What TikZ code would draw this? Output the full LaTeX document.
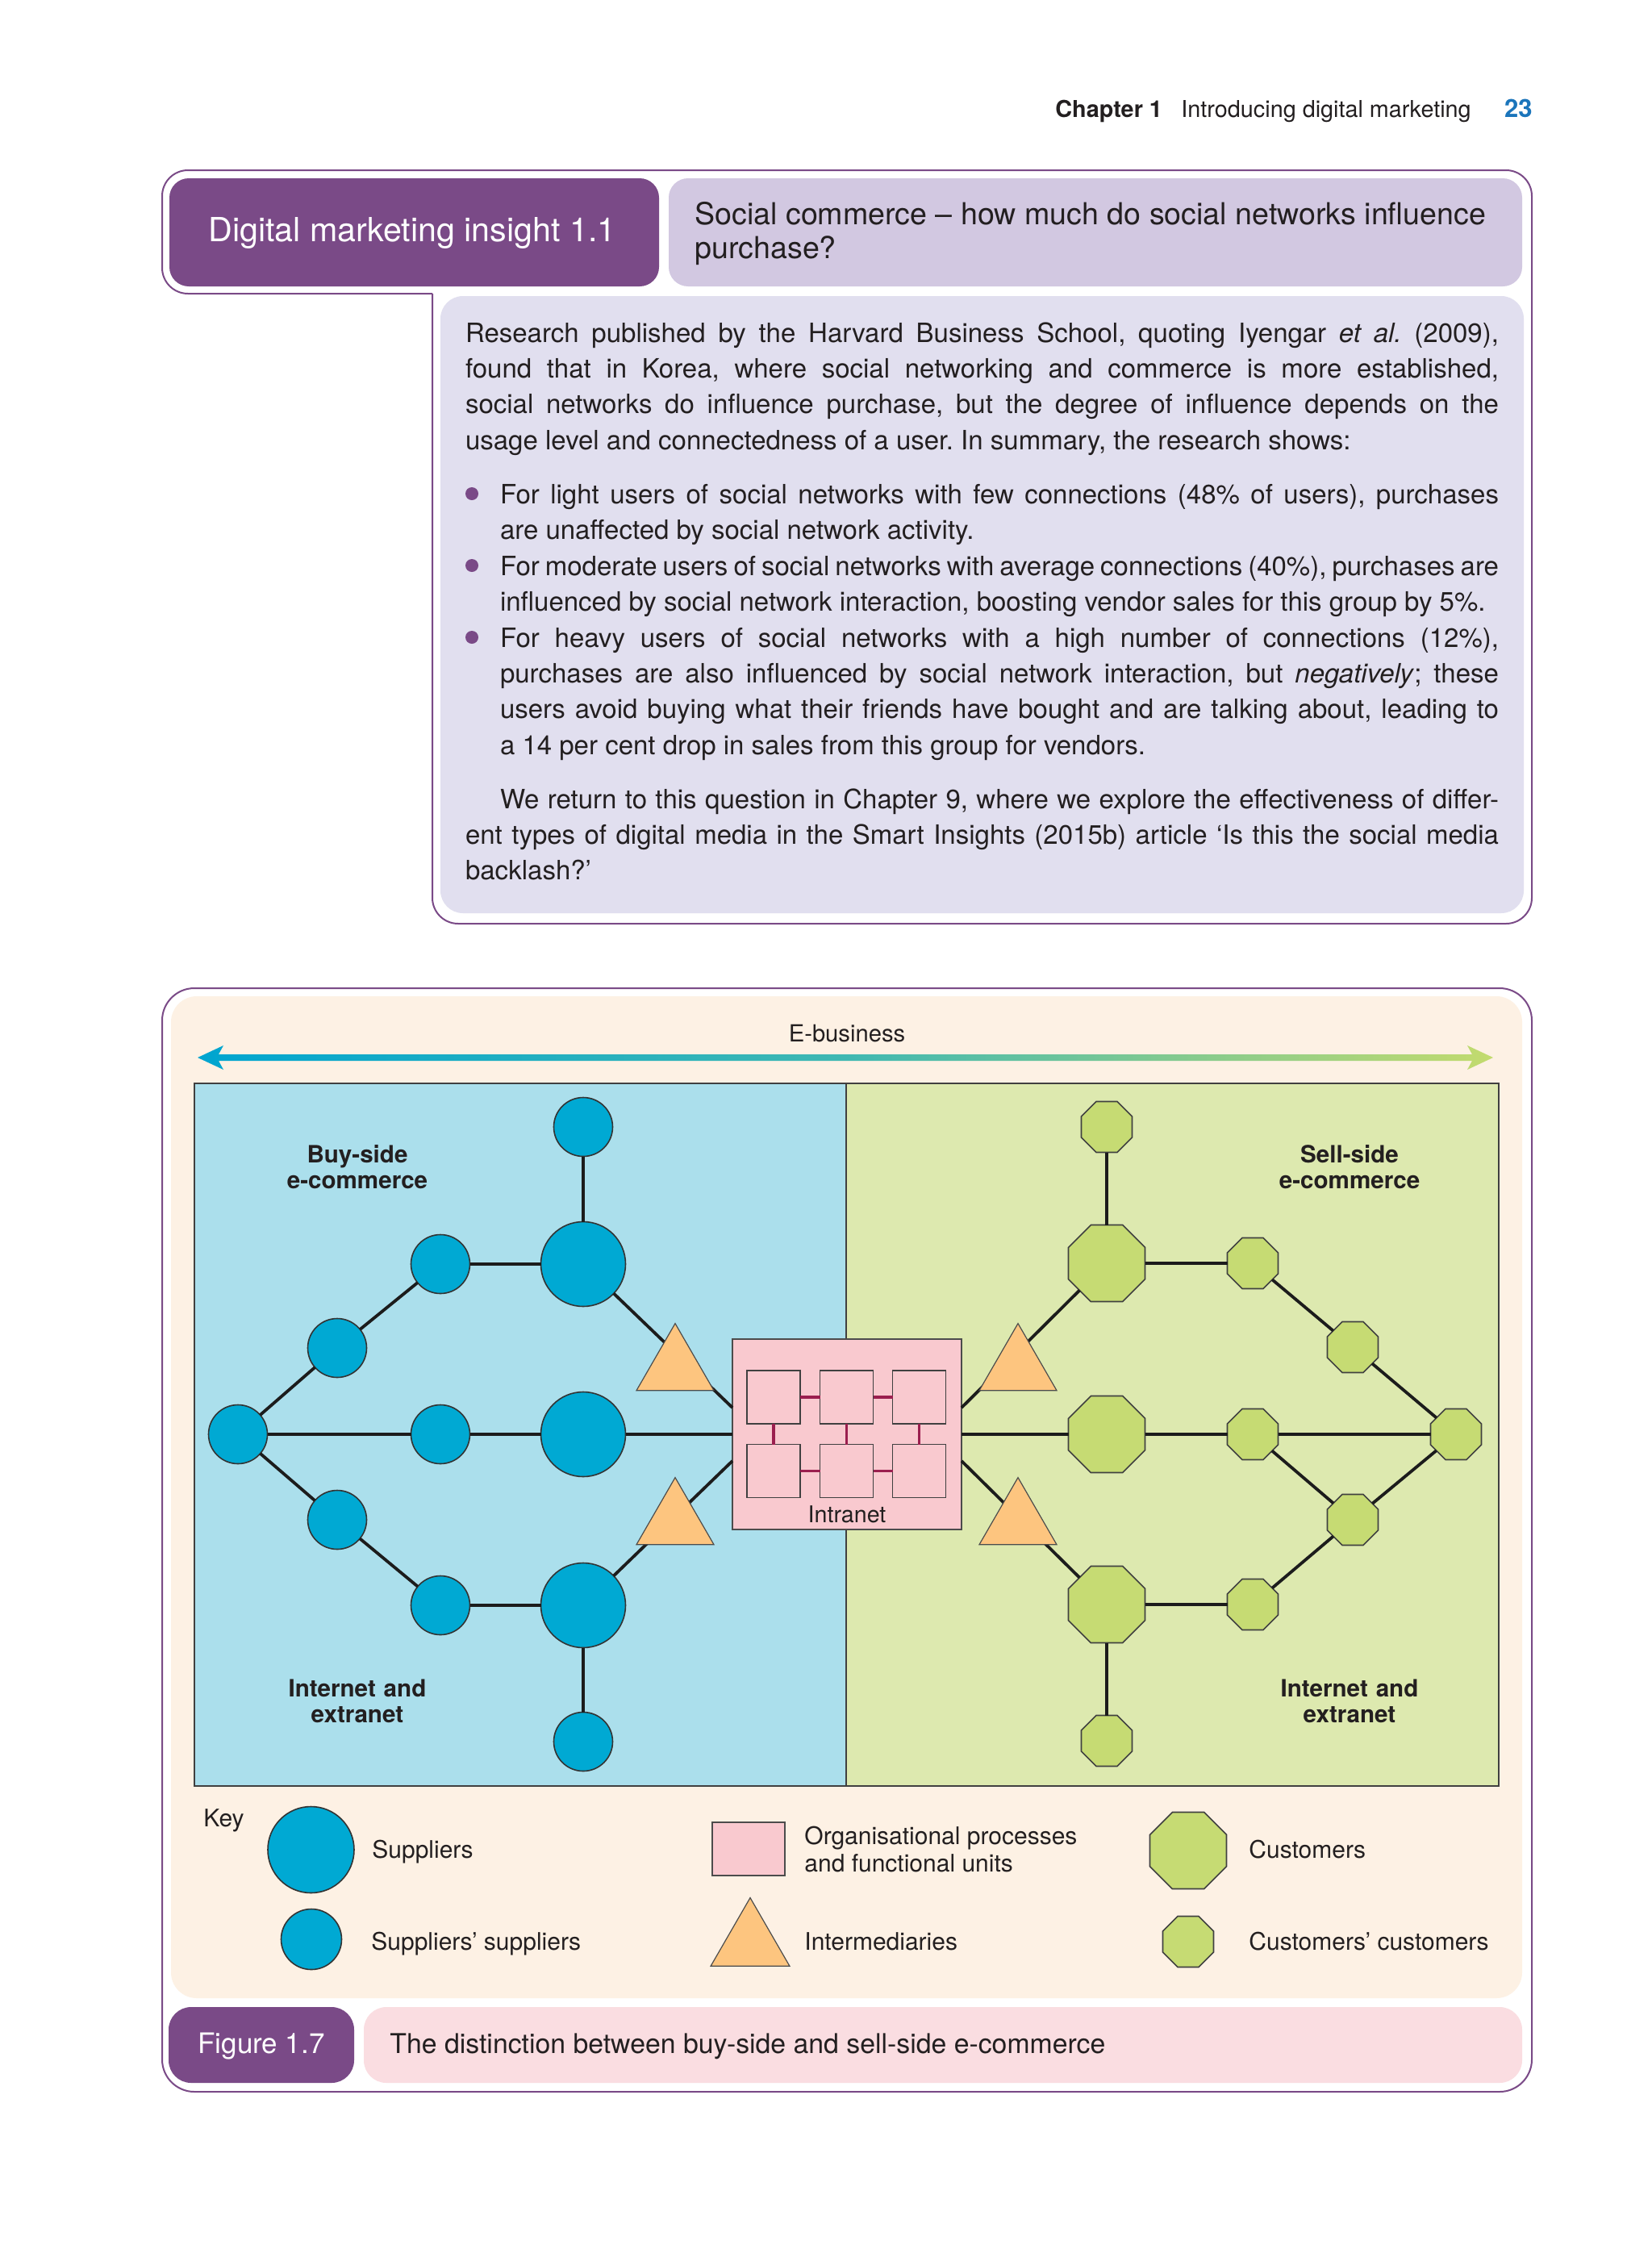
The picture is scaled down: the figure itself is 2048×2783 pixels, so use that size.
\documentclass[tikz,border=0pt]{standalone}
\usepackage{fontspec}
\setmainfont{TeX Gyre Heros}
\usetikzlibrary{shapes.geometric}
\definecolor{purpleD}{HTML}{7A4A87}
\definecolor{lilac}{HTML}{D2C8E1}
\definecolor{lavender}{HTML}{E1DFEF}
\definecolor{beige}{HTML}{FDF1E4}
\definecolor{bluePanel}{HTML}{ABDFEC}
\definecolor{greenPanel}{HTML}{DDE9AF}
\definecolor{circC}{HTML}{00A9D3}
\definecolor{octC}{HTML}{C6DB73}
\definecolor{triC}{HTML}{FDC57F}
\definecolor{pinkBox}{HTML}{F9C9CF}
\definecolor{magentaC}{HTML}{9B1F4F}
\definecolor{capPink}{HTML}{FADDE1}
\definecolor{headBlue}{HTML}{1B75BB}
\definecolor{textc}{HTML}{231F20}
\definecolor{arrowL}{HTML}{00A5D0}
\definecolor{arrowM}{HTML}{3FB8B2}
\definecolor{arrowR}{HTML}{C3DB6E}
\definecolor{lineC}{HTML}{1C1C1C}
\newcommand\jline[1]{\hbox to\hsize{#1}}
\newcommand\lline[1]{\hbox{#1}}
\newcommand\txtblock[2]{\vtop{\hsize=#1\relax #2}}
\frenchspacing
\begin{document}
\begin{tikzpicture}[x=0.5pt,y=-0.5pt,
  bodytxt/.style={inner sep=0pt, outer sep=0pt, font=\fontsize{16.5}{22.2}\selectfont\frenchspacing, text=textc, anchor=base west},
  bigC/.style={circle, fill=circC, draw=black!80, line width=0.8pt, minimum size=52.5pt, inner sep=0pt, outer sep=0pt},
  smallC/.style={bigC, minimum size=36.5pt},
  bigO/.style={regular polygon, regular polygon sides=8, fill=octC, draw=black!75, line width=0.8pt, minimum size=51.4pt, inner sep=0pt, outer sep=0pt},
  smallO/.style={bigO, minimum size=34.1pt},
  triN/.style={regular polygon, regular polygon sides=3, fill=triC, draw=black!70, line width=0.6pt, minimum size=55.4pt, inner sep=0pt, outer sep=0pt},
  sq/.style={rectangle, fill=pinkBox, draw=black!75, line width=0.7pt, minimum size=33pt, inner sep=0pt, outer sep=0pt},
  edge/.style={line width=1.9pt, draw=lineC},
  mconn/.style={line width=1.6pt, draw=magentaC},
  lab/.style={text width=120pt, align=center, inner sep=0pt, font=\bfseries\fontsize{14.8}{16.3}\selectfont, text=textc, anchor=base},
  keytxt/.style={inner sep=0pt, font=\fontsize{15}{17}\selectfont, text=textc, anchor=base west}
]
\useasboundingbox (0,0) rectangle (2048,2783);
\fill[white] (0,0) rectangle (2048,2783);

% header
\node[keytxt, font=\bfseries\fontsize{14.4}{17}\selectfont] (hchap) at (1308,146) {Chapter 1};
\node[keytxt, font=\fontsize{14.4}{17}\selectfont] (htitle) at (1464,146) {Introducing digital marketing};
\node[inner sep=0pt, anchor=base east, font=\bfseries\fontsize{15.5}{17}\selectfont, text=headBlue] (hpage) at (1900,146) {23};

% insight box
\draw[purpleD, line width=1pt, rounded corners=16] (536,364) -- (201,364) -- (201,211) -- (1899,211) -- (1899,1145) -- (536,1145) -- (536,364);
\fill[purpleD, rounded corners=12] (210,221) rectangle (817,355);
\fill[lilac, rounded corners=12] (829,221) rectangle (1887,355);
\fill[lavender, rounded corners=14] (546,367) rectangle (1889,1132);
\node[inner sep=0pt, anchor=base, text=white, font=\fontsize{20.6}{24}\selectfont] (ititle) at (511,299) {Digital marketing insight 1.1};
\node[keytxt, font=\fontsize{18.8}{21}\selectfont] (iq1) at (861,278) {Social commerce \textendash{} how much do social networks influence};
\node[keytxt, font=\fontsize{18.8}{21}\selectfont] (iq2) at (861,320) {purchase?};

\node[bodytxt] (p1) at (577,424) {\txtblock{640.5pt}{%
\jline{Research published by the Harvard Business School, quoting Iyengar \emph{et al.}\ (2009),}%
\jline{found that in Korea, where social networking and commerce is more established,}%
\jline{social networks do influence purchase, but the degree of influence depends on the}%
\lline{usage level and connectedness of a user. In summary, the research shows:}}};

\fill[purpleD] (585,612) circle (4pt);
\node[bodytxt] (b1) at (620,624.5) {\txtblock{619pt}{%
\jline{For light users of social networks with few connections (48\% of users), purchases}%
\lline{are unaffected by social network activity.}}};
\fill[purpleD] (585,701) circle (4pt);
\node[bodytxt] (b2) at (620,713) {\txtblock{619pt}{%
\jline{For moderate users of social networks with average connections (40\%), purchases are}%
\lline{influenced by social network interaction, boosting vendor sales for this group by 5\%.}}};
\fill[purpleD] (585,790) circle (4pt);
\node[bodytxt] (b3) at (620,802) {\txtblock{619pt}{%
\jline{For heavy users of social networks with a high number of connections (12\%),}%
\jline{purchases are also influenced by social network interaction, but \emph{negatively}; these}%
\jline{users avoid buying what their friends have bought and are talking about, leading to}%
\lline{a 14 per cent drop in sales from this group for vendors.}}};

\node[bodytxt] (p2) at (577,1002) {\txtblock{640.5pt}{%
\jline{\hskip21.5pt We return to this question in Chapter 9, where we explore the effectiveness of differ-}%
\jline{ent types of digital media in the Smart Insights (2015b) article ‘Is this the social media}%
\lline{backlash?’}}};

% figure frame
\draw[purpleD, line width=1pt, rounded corners=20] (201,1225) rectangle (1899,2593);
\fill[beige, rounded corners=16] (212,1235) rectangle (1887,2477);

\node[inner sep=0pt, anchor=base, font=\fontsize{14.6}{17}\selectfont, text=textc] (ebiz) at (1050,1291) {E-business};
\shade[left color=arrowL, right color=arrowR, middle color=arrowM]
  (245,1311) -- (277,1296) -- (271,1307) -- (1825,1307) -- (1819,1296) -- (1851,1311)
  -- (1819,1326) -- (1825,1315) -- (271,1315) -- (277,1326) -- cycle;

% panels
\fill[bluePanel] (241,1343) rectangle (1049,2214);
\fill[greenPanel] (1049,1343) rectangle (1858,2214);
\draw[black!75, line width=0.8pt] (241,1343) rectangle (1858,2214);
\draw[black!75, line width=0.8pt] (1049,1343) -- (1049,2214);

% intranet
\node[rectangle, fill=pinkBox, draw=black!70, line width=0.8pt, minimum width=142pt, minimum height=118pt, inner sep=0pt, outer sep=0pt] (intra) at (1050,1778) {};
\node[sq] (q1) at (959,1732) {};
\node[sq] (q2) at (1049.5,1732) {};
\node[sq] (q3) at (1139.5,1732) {};
\node[sq] (q4) at (959,1823.5) {};
\node[sq] (q5) at (1049.5,1823.5) {};
\node[sq] (q6) at (1139.5,1823.5) {};
\draw[mconn] (q1) -- (q2); \draw[mconn] (q2) -- (q3);
\draw[mconn] (q4) -- (q5); \draw[mconn] (q5) -- (q6);
\draw[mconn] (q1) -- (q4); \draw[mconn] (q2) -- (q5); \draw[mconn] (q3) -- (q6);
\node[inner sep=0pt, anchor=base, font=\fontsize{14.3}{17}\selectfont, text=textc] (intralab) at (1050,1887) {Intranet};
\coordinate (inLT) at (908,1745);
\coordinate (inLB) at (908,1811);
\coordinate (inRT) at (1192,1745);
\coordinate (inRB) at (1192,1811);

% buy side
\node[smallC] (sTop) at (723,1397) {};
\node[bigC] (bT) at (723,1567) {};
\node[bigC] (bM) at (723,1778) {};
\node[bigC] (bB) at (723,1990) {};
\node[smallC] (sBot) at (723,2159) {};
\node[smallC] (l1) at (546,1567) {};
\node[smallC] (l2) at (418,1671) {};
\node[smallC] (l0) at (295,1778) {};
\node[smallC] (lm) at (546,1778) {};
\node[smallC] (l4) at (418,1884) {};
\node[smallC] (l5) at (546,1990) {};

% sell side
\node[smallO] (oTop) at (1372,1397) {};
\node[bigO] (oT) at (1372,1566) {};
\node[bigO] (oM) at (1372,1778) {};
\node[bigO] (oB) at (1372,1989) {};
\node[smallO] (oBot) at (1372,2158) {};
\node[smallO] (r1) at (1553,1566) {};
\node[smallO] (r2) at (1677,1670) {};
\node[smallO] (r3) at (1805,1778) {};
\node[smallO] (rm) at (1553,1778) {};
\node[smallO] (r4) at (1677,1884) {};
\node[smallO] (r5) at (1553,1989) {};

% edges
\draw[edge] (sTop) -- (bT);
\draw[edge] (bT) -- (l1);
\draw[edge] (l1) -- (l2);
\draw[edge] (l2) -- (l0);
\draw[edge] (l0) -- (lm);
\draw[edge] (lm) -- (bM);
\draw[edge] (bM) -- (intra);
\draw[edge] (l0) -- (l4);
\draw[edge] (l4) -- (l5);
\draw[edge] (l5) -- (bB);
\draw[edge] (bB) -- (sBot);
\draw[edge] (bT) -- (inLT);
\draw[edge] (bB) -- (inLB);
\draw[edge] (oTop) -- (oT);
\draw[edge] (oT) -- (r1);
\draw[edge] (r1) -- (r2);
\draw[edge] (r2) -- (r3);
\draw[edge] (intra) -- (oM);
\draw[edge] (oM) -- (rm);
\draw[edge] (rm) -- (r3);
\draw[edge] (rm) -- (r4);
\draw[edge] (r4) -- (r3);
\draw[edge] (oB) -- (r5);
\draw[edge] (r5) -- (r4);
\draw[edge] (oB) -- (oBot);
\draw[edge] (inRT) -- (oT);
\draw[edge] (inRB) -- (oB);

% intermediaries
\node[triN] (tL1) at (837,1696) {};
\node[triN] (tL2) at (837,1887) {};
\node[triN] (tR1) at (1262,1696) {};
\node[triN] (tR2) at (1262,1887) {};

% labels
\node[lab] (buy) at (443,1441) {Buy-side\\e-commerce};
\node[lab] (inetL) at (443,2103) {Internet and\\extranet};
\node[lab] (sell) at (1673,1441) {Sell-side\\e-commerce};
\node[lab] (inetR) at (1673,2103) {Internet and\\extranet};

% key
\node[keytxt] (key) at (252,2264) {Key};
\node[bigC, minimum size=53.5pt] (kSup) at (385.5,2293) {};
\node[keytxt] (kSupL) at (461,2303) {Suppliers};
\node[smallC, minimum size=37.5pt] (kSS) at (386,2404) {};
\node[keytxt] (kSSL) at (460,2417) {Suppliers’ suppliers};
\node[rectangle, fill=pinkBox, draw=black!70, line width=0.8pt, minimum width=45pt, minimum height=33pt, inner sep=0pt] (kOrg) at (928,2292) {};
\node[keytxt] (kOrgL1) at (997,2286) {Organisational processes};
\node[keytxt] (kOrgL2) at (997,2320) {and functional units};
\node[triN, minimum size=56.5pt] (kTri) at (930,2409) {};
\node[keytxt] (kTriL) at (997,2417) {Intermediaries};
\node[bigO] (kCus) at (1473,2294) {};
\node[keytxt] (kCusL) at (1548,2303) {Customers};
\node[smallO] (kCC) at (1473,2407) {};
\node[keytxt] (kCCL) at (1548,2417) {Customers’ customers};

% caption
\fill[purpleD, rounded corners=14] (209,2488) rectangle (439,2582);
\fill[capPink, rounded corners=14] (451,2488) rectangle (1887,2582);
\node[inner sep=0pt, anchor=base, text=white, font=\fontsize{17.5}{20}\selectfont] (figno) at (324,2545) {Figure 1.7};
\node[keytxt, font=\fontsize{16.9}{20}\selectfont] (figcap) at (483,2545) {The distinction between buy-side and sell-side e-commerce};
\end{tikzpicture}
\end{document}
